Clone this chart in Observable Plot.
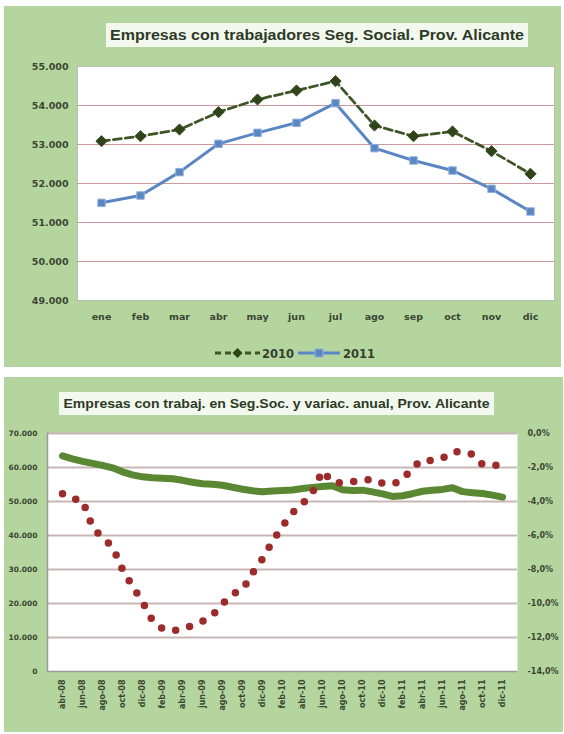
<!DOCTYPE html>
<html><head><meta charset="utf-8">
<script src="https://cdn.jsdelivr.net/npm/d3@7"></script>
<script src="https://cdn.jsdelivr.net/npm/@observablehq/plot@0.6"></script>
<style>
body{margin:0;background:#fff;}
#page{position:relative;width:564px;height:734px;overflow:hidden;background:#fff;font-family:"DejaVu Sans",sans-serif;}
.panel{position:absolute;background:#b5d59e;}
.abs{position:absolute;}
</style></head><body><div id="page"></div>
<script>
// ---- Top chart data ----
const months = ["ene","feb","mar","abr","may","jun","jul","ago","sep","oct","nov","dic"];
const values2010 = [53085,53213,53385,53829,54154,54385,54624,53487,53213,53333,52829,52248];
const values2011 = [51504,51692,52291,53017,53299,53556,54060,52906,52590,52333,51863,51282];
const yTicksTop = [49000,50000,51000,52000,53000,54000,55000];

// ---- Bottom chart data ----
const periods = [
 "abr-08","may-08","jun-08","jul-08","ago-08","sep-08","oct-08","nov-08","dic-08",
 "ene-09","feb-09","mar-09","abr-09","may-09","jun-09","jul-09","ago-09","sep-09","oct-09","nov-09","dic-09",
 "ene-10","feb-10","mar-10","abr-10","may-10","jun-10","jul-10","ago-10","sep-10","oct-10","nov-10","dic-10",
 "ene-11","feb-11","mar-11","abr-11","may-11","jun-11","jul-11","ago-11","sep-11","oct-11","nov-11","dic-11"];
const empresas = [
 63410,62530,61800,61210,60630,59900,58720,57840,57260,
 56970,56820,56670,56230,55650,55210,55060,54770,54180,53600,53160,52870,
 53085,53213,53385,53829,54154,54385,54624,53487,53213,53333,52829,52248,
 51504,51692,52291,53017,53299,53556,54060,52906,52590,52333,51863,51282];
const variacion = [
 -3.54,-3.84,-3.93,-5.51,-6.15,-6.65,-8.0,-8.99,-9.9,
 -11.01,-11.48,-11.6,-11.51,-11.28,-11.04,-10.69,-10.02,-9.43,-9.21,-8.2,-7.38,
 -6.35,-5.45,-4.66,-4.13,-3.46,-2.2,-2.87,-2.9,-2.84,-2.75,-2.69,-2.93,
 -2.98,-2.75,-2.0,-1.55,-1.6,-1.45,-1.08,-1.08,-1.22,-1.82,-1.85,-1.9];
const leftTicks = [0,10000,20000,30000,40000,50000,60000,70000];
const rightTicks = [-14,-12,-10,-8,-6,-4,-2,0];
const periodTicks = periods.filter((d,i)=>i%2===0);

const page = document.getElementById("page");
const fmtThousands = d => d3.format(",")(d).replace(/,/g,".");
const pct2y = p => (p + 14) * 5000;          // right axis mapped on left scale
const pctLabel = v => { const p = Math.round(v/5000 - 14); return (p === 0 ? "0,0" : p.toFixed(1).replace(".", ",")) + "%"; };

function addDiv(cls, css){ const d=document.createElement("div"); d.className=cls; Object.assign(d.style, css); page.appendChild(d); return d; }
function titleBox(text, x, y, w, h, tl, fs){
  const d = addDiv("abs", {left:x+"px", top:y+"px", width:w+"px", height:h+"px", background:"#f3f8ee"});
  d.innerHTML = `<svg width="${w}" height="${h}" style="overflow:visible"><text x="${w/2}" y="${h/2+fs*0.36}" text-anchor="middle" textLength="${tl}" lengthAdjust="spacingAndGlyphs" font-family="Liberation Sans" font-weight="bold" font-size="${fs}" fill="#2e3a28">${text}</text></svg>`;
}

// panels
addDiv("panel", {left:"4px", top:"6px", width:"557px", height:"361px"});
addDiv("panel", {left:"4px", top:"377px", width:"559px", height:"355px"});

// ---- Top chart ----
const topData = months.flatMap((m,i)=>[{mes:m, serie:"2010", v:values2010[i]},{mes:m, serie:"2011", v:values2011[i]}]);
const d2010 = topData.filter(d=>d.serie==="2010");
const d2011 = topData.filter(d=>d.serie==="2011");
const topPlot = Plot.plot({
  width:564, height:340,
  marginLeft:77, marginRight:10, marginTop:66, marginBottom:40,
  style:{background:"transparent", fontFamily:"DejaVu Sans", fontWeight:"bold", fontSize:"9.5px", color:"#3a4632", overflow:"visible"},
  x:{type:"point", domain:months, padding:0.5, label:null},
  y:{domain:[49000,55000], label:null},
  marks:[
    Plot.frame({fill:"white", stroke:"#b9c0b4"}),
    Plot.gridY(yTicksTop.slice(1,-1), {stroke:"#c9999b", strokeOpacity:1, strokeWidth:1.2}),
    Plot.axisY(yTicksTop, {tickSize:0, tickPadding:9, tickFormat:fmtThousands, label:null}),
    Plot.axisX({tickSize:0, tickPadding:13, label:null}),
    Plot.line(d2010, {x:"mes", y:"v", stroke:"#3e5526", strokeWidth:2.8, strokeDasharray:"8,4"}),
    Plot.dot(d2010, {x:"mes", y:"v", symbol:"diamond2", r:5, fill:"#2f4419", stroke:"#2f4419", strokeWidth:1}),
    Plot.line(d2011, {x:"mes", y:"v", stroke:"#5a86c4", strokeWidth:3}),
    Plot.dot(d2011, {x:"mes", y:"v", symbol:"square", r:4.2, fill:"#5a86c4", stroke:"#8fb0de", strokeWidth:1})
  ]
});
Object.assign(topPlot.style, {position:"absolute", left:"0px", top:"0px"});
page.appendChild(topPlot);
titleBox("Empresas con trabajadores Seg. Social. Prov. Alicante", 106, 23, 422, 24, 414, 14);

// legend top
const leg = addDiv("abs", {left:"205px", top:"342px", width:"180px", height:"22px"});
leg.innerHTML = `<svg width="180" height="22">
 <line x1="10" y1="11" x2="55" y2="11" stroke="#3e5526" stroke-width="2.8" stroke-dasharray="6,4"/>
 <path d="M32.5,6 L37.5,11 L32.5,16 L27.5,11 Z" fill="#2f4419"/>
 <text x="57" y="15.5" font-family="DejaVu Sans" font-weight="bold" font-size="11.5" fill="#34402c">2010</text>
 <line x1="93" y1="11" x2="135" y2="11" stroke="#5a86c4" stroke-width="3"/>
 <rect x="110" y="7" width="8" height="8" fill="#5a86c4" stroke="#8fb0de"/>
 <text x="138" y="15.5" font-family="DejaVu Sans" font-weight="bold" font-size="11.5" fill="#34402c">2011</text>
</svg>`;

// ---- Bottom chart ----
const table = periods.map((p,i)=>({periodo:p, empresas:empresas[i], variacion:variacion[i]}));
const botPlot = Plot.plot({
  width:564, height:356,
  marginLeft:47, marginRight:47, marginTop:56, marginBottom:62,
  style:{background:"transparent", fontFamily:"DejaVu Sans", fontWeight:"bold", fontSize:"7.5px", color:"#3a4632", overflow:"visible"},
  x:{type:"point", domain:periods, padding:0.5, label:null},
  y:{domain:[0,70000], label:null},
  marks:[
    Plot.frame({fill:"white"}),
    Plot.gridY(leftTicks.slice(1), {stroke:"#c8b5b5", strokeOpacity:1, strokeWidth:1.8}),
    Plot.ruleY([0], {stroke:"#9a9a9a", strokeWidth:1.5}),
    Plot.frame({anchor:"left", stroke:"#9a9a9a", strokeWidth:1.5}),
    Plot.line(table, {x:"periodo", y:"empresas", stroke:"#5a8832", strokeWidth:7, strokeLinejoin:"round", strokeLinecap:"round"}),
    Plot.line(table, {x:"periodo", y:d=>pct2y(d.variacion), stroke:"#9c2c2c", strokeWidth:7.5, strokeDasharray:"0,14.5", strokeLinecap:"round"}),
    Plot.axisY(leftTicks, {anchor:"left", tickSize:0, tickPadding:10, tickFormat:fmtThousands, label:null}),
    Plot.axisY(rightTicks.map(pct2y), {anchor:"right", tickSize:0, tickPadding:10, tickFormat:pctLabel, label:null, fontSize:8}),
    Plot.axisX(periodTicks, {tickSize:0, tickPadding:8, tickRotate:-90, fontSize:8, label:null})
  ]
});
Object.assign(botPlot.style, {position:"absolute", left:"0px", top:"377px"});
page.appendChild(botPlot);
titleBox("Empresas con trabaj. en Seg.Soc. y variac. anual, Prov. Alicante", 59, 392, 435, 23, 426, 12);
</script></body></html>
